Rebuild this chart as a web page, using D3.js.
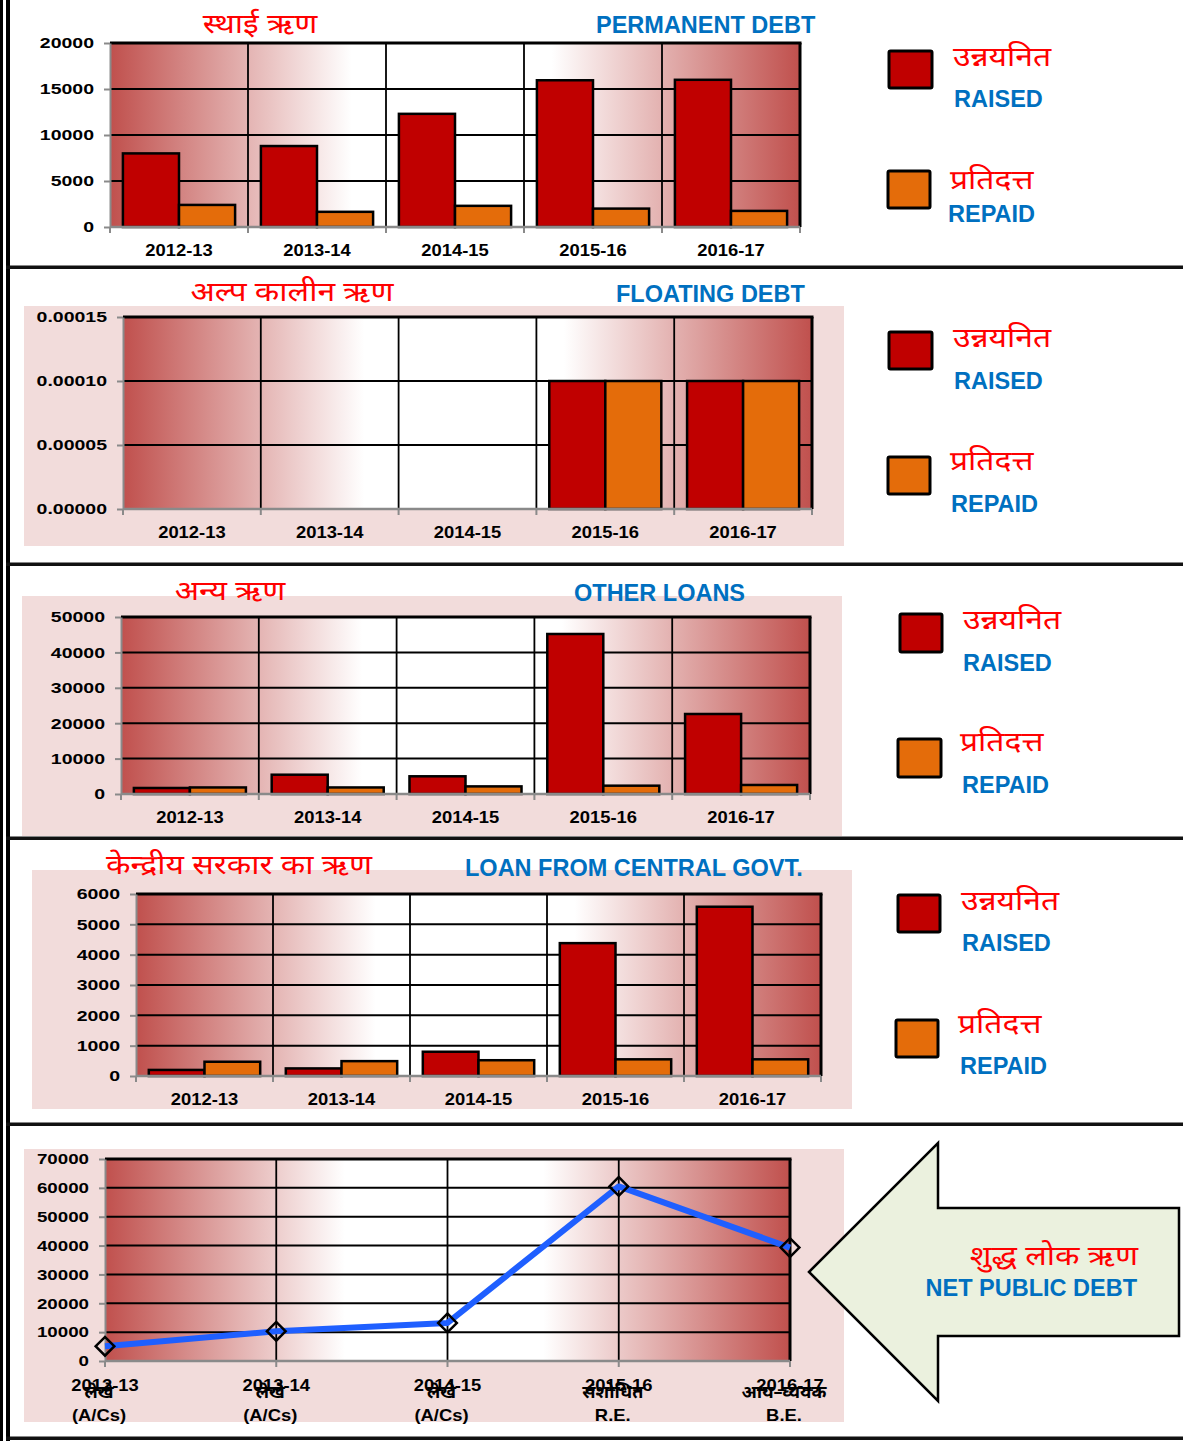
<!DOCTYPE html>
<html><head><meta charset="utf-8">
<script src="https://cdn.jsdelivr.net/npm/d3@7"></script>
<style>
body{margin:0;background:#fff;}
svg{display:block;}
.lat{font-family:"Liberation Sans",Arial,sans-serif;font-weight:bold;}
.np{font-family:"Noto Sans Devanagari","Lohit Devanagari","Mangal","Noto Sans",sans-serif;}
</style></head><body>
<svg id="chart" width="1183" height="1441"></svg>
<script>
// ---------------- DATA ----------------
const categories = ["2012-13", "2013-14", "2014-15", "2015-16", "2016-17"];
const seriesKeys = ["raised", "repaid"];
const seriesNp = ["उन्नयनित", "प्रतिदत्त"];
const seriesEn = ["RAISED", "REPAID"];

const permanentRaised = [8000, 8800, 12300, 15950, 16000];
const permanentRepaid = [2400, 1650, 2300, 2000, 1750];
const permanentTicks = [0, 5000, 10000, 15000, 20000];

const floatingRaised = [0, 0, 0, 0.0001, 0.0001];
const floatingRepaid = [0, 0, 0, 0.0001, 0.0001];
const floatingTicks = [0, 0.00005, 0.0001, 0.00015];

const otherRaised = [1700, 5450, 5000, 45200, 22600];
const otherRepaid = [1850, 1850, 2150, 2350, 2550];
const otherTicks = [0, 10000, 20000, 30000, 40000, 50000];

const centralRaised = [200, 250, 800, 4380, 5580];
const centralRepaid = [470, 490, 520, 550, 550];
const centralTicks = [0, 1000, 2000, 3000, 4000, 5000, 6000];

const netPublicDebt = [5100, 10300, 13200, 60500, 39300];
const netTicks = [0, 10000, 20000, 30000, 40000, 50000, 60000, 70000];
const netLabelNp = ["लेखे", "लेखे", "लेखे", "संशोधित", "आय–व्ययक"];
const netLabelEn = ["(A/Cs)", "(A/Cs)", "(A/Cs)", "R.E.", "B.E."];

const panelTitlesNp = ["स्थाई ऋण", "अल्प कालीन ऋण", "अन्य ऋण", "केन्द्रीय सरकार का ऋण", "शुद्ध लोक ऋण"];
const panelTitlesEn = ["PERMANENT DEBT", "FLOATING DEBT", "OTHER LOANS", "LOAN FROM CENTRAL GOVT.", "NET PUBLIC DEBT"];

// ---------------- STYLE ----------------
const RED_TXT = "#ff0000", BLUE_TXT = "#0070c0";
const RAISED_C = "#c00000", REPAID_C = "#e46c0a";
const PINK = "#f2dcdb", AXIS_GRAY = "#8a8a8a";
const NP_SX = 1.18;

const svg = d3.select("#chart");
const defs = svg.append("defs");
const grad = defs.append("linearGradient").attr("id", "plotGrad")
  .attr("x1", "0").attr("x2", "1").attr("y1", "0").attr("y2", "0");
[[0, "#c0504d"], [0.35, "#ffffff"], [0.64, "#ffffff"], [1, "#c0504d"]].forEach(s =>
  grad.append("stop").attr("offset", s[0]).attr("stop-color", s[1]));

function sText(parent, x, y, txt, size, sx, anchor, fill) {
  const g = parent.append("g").attr("transform", `translate(${x},${y}) scale(${sx},1)`);
  g.append("text").attr("class", "lat").attr("text-anchor", anchor || "middle")
    .attr("font-size", size).attr("fill", fill || "#000").text(txt);
  return g;
}
function npText(parent, x, y, txt, size, anchor, fill, bold) {
  const g = parent.append("g").attr("transform", `translate(${x},${y}) scale(${NP_SX},1)`);
  const t = g.append("text").attr("class", "np").attr("text-anchor", anchor || "start")
    .attr("font-size", size).attr("fill", fill || RED_TXT).text(txt);
  if (bold) t.attr("font-weight", "bold");
  return g;
}

function styleYAxis(ax, sx) {
  ax.select(".domain").attr("stroke", AXIS_GRAY).attr("stroke-width", 2);
  ax.selectAll(".tick line").attr("stroke", AXIS_GRAY).attr("stroke-width", 2);
  ax.selectAll(".tick text").attr("class", "lat").attr("font-size", 15).attr("fill", "#000")
    .attr("x", -16 / sx).attr("transform", `scale(${sx},1)`);
}

function legend(L) {
  const g = svg.append("g");
  L.sq.forEach((s, i) => {
    g.append("rect").attr("x", s[0]).attr("y", s[1]).attr("width", s[2]).attr("height", s[3])
      .attr("fill", i === 0 ? RAISED_C : REPAID_C).attr("stroke", "#000").attr("stroke-width", 3).attr("rx", 1.5);
    npText(g, L.np[i][0], L.np[i][1], seriesNp[i], 27, "start");
    g.append("text").attr("class", "lat").attr("x", L.en[i][0]).attr("y", L.en[i][1])
      .attr("font-size", 23.5).attr("fill", BLUE_TXT).text(seriesEn[i]);
  });
}

function barPanel(o) {
  const g = svg.append("g");
  if (o.bg) g.append("rect").attr("x", o.bg[0]).attr("y", o.bg[1]).attr("width", o.bg[2] - o.bg[0])
    .attr("height", o.bg[3] - o.bg[1]).attr("fill", PINK);
  const x0 = d3.scaleBand().domain(categories).range([o.left, o.right]);
  const x1 = d3.scaleBand().domain(seriesKeys).range([0, x0.bandwidth()]).paddingOuter(0.23);
  const y = d3.scaleLinear().domain([0, d3.max(o.ticks)]).range([o.bottom, o.top]);

  g.append("rect").attr("x", o.left).attr("y", o.top).attr("width", o.right - o.left)
    .attr("height", o.bottom - o.top).attr("fill", "url(#plotGrad)");
  g.selectAll(".hg").data(o.ticks.slice(1, -1)).join("line")
    .attr("x1", o.left).attr("x2", o.right).attr("y1", d => y(d)).attr("y2", d => y(d))
    .attr("stroke", "#000").attr("stroke-width", 2);
  g.selectAll(".vg").data(categories.slice(1)).join("line")
    .attr("x1", d => x0(d)).attr("x2", d => x0(d)).attr("y1", o.top).attr("y2", o.bottom)
    .attr("stroke", "#000").attr("stroke-width", 1.8);

  const rows = categories.map((c, i) => ({ c, vals: [o.raised[i], o.repaid[i]] }));
  rows.forEach(r => {
    r.vals.forEach((v, k) => {
      if (v <= 0) return;
      g.append("rect").attr("x", x0(r.c) + x1(seriesKeys[k])).attr("y", y(v))
        .attr("width", x1.bandwidth()).attr("height", y(0) - y(v))
        .attr("fill", k === 0 ? RAISED_C : REPAID_C).attr("stroke", "#000").attr("stroke-width", 2.5);
    });
  });

  g.append("line").attr("x1", o.left).attr("x2", o.right + 1.5).attr("y1", o.top).attr("y2", o.top)
    .attr("stroke", "#000").attr("stroke-width", 3);
  g.append("line").attr("x1", o.right).attr("x2", o.right).attr("y1", o.top).attr("y2", o.bottom)
    .attr("stroke", "#000").attr("stroke-width", 3);

  const ay = g.append("g").attr("transform", `translate(${o.left},0)`)
    .call(d3.axisLeft(y).tickValues(o.ticks).tickSize(6).tickSizeOuter(0).tickFormat(o.fmt));
  styleYAxis(ay, 1.3);

  g.append("line").attr("x1", o.left).attr("x2", o.right).attr("y1", o.bottom).attr("y2", o.bottom)
    .attr("stroke", AXIS_GRAY).attr("stroke-width", 2.5);
  const bounds = categories.map(c => x0(c)).concat([o.right]);
  g.selectAll(".xt").data(bounds).join("line")
    .attr("x1", d => d).attr("x2", d => d).attr("y1", o.bottom).attr("y2", o.bottom + 6)
    .attr("stroke", AXIS_GRAY).attr("stroke-width", 2);
  categories.forEach(c => sText(g, x0(c) + x0.bandwidth() / 2, o.bottom + 29, c, 16, 1.15));

  npText(g, o.tNp[0], o.tNp[1], panelTitlesNp[o.idx], 27, "middle");
  g.append("text").attr("class", "lat").attr("x", o.tEn[0]).attr("y", o.tEn[1])
    .attr("font-size", 23.5).attr("fill", BLUE_TXT).text(panelTitlesEn[o.idx]);
  legend(o.legend);
}

barPanel({ idx: 0, left: 110, right: 800, top: 43, bottom: 227, ticks: permanentTicks,
  raised: permanentRaised, repaid: permanentRepaid, fmt: d3.format("d"),
  tNp: [260, 33], tEn: [596, 33],
  legend: { sq: [[889, 51, 43, 37], [888, 171, 42, 37]], np: [[953, 66], [950, 189]], en: [[954, 107], [948, 222]] } });

barPanel({ idx: 1, bg: [24, 306, 844, 546], left: 123, right: 812, top: 317, bottom: 509, ticks: floatingTicks,
  raised: floatingRaised, repaid: floatingRepaid, fmt: d3.format(".5f"),
  tNp: [292, 301], tEn: [616, 302],
  legend: { sq: [[889, 332, 43, 37], [888, 457, 42, 37]], np: [[953, 347], [950, 470]], en: [[954, 389], [951, 512]] } });

barPanel({ idx: 2, bg: [22, 596, 842, 836], left: 121, right: 810, top: 617, bottom: 794, ticks: otherTicks,
  raised: otherRaised, repaid: otherRepaid, fmt: d3.format("d"),
  tNp: [230, 600], tEn: [574, 601],
  legend: { sq: [[900, 614, 42, 38], [898, 739, 43, 38]], np: [[963, 629], [960, 751]], en: [[963, 671], [962, 793]] } });

barPanel({ idx: 3, bg: [32, 870, 852, 1109], left: 136, right: 821, top: 894, bottom: 1076, ticks: centralTicks,
  raised: centralRaised, repaid: centralRepaid, fmt: d3.format("d"),
  tNp: [239, 874], tEn: [465, 876],
  legend: { sq: [[898, 895, 42, 37], [896, 1020, 42, 37]], np: [[961, 910], [958, 1033]], en: [[962, 951], [960, 1074]] } });

// ---------------- LINE PANEL ----------------
(function linePanel() {
  const o = { left: 105, right: 790, top: 1159, bottom: 1361 };
  const g = svg.append("g");
  g.append("rect").attr("x", 24).attr("y", 1149).attr("width", 820).attr("height", 273).attr("fill", PINK);
  const x = d3.scalePoint().domain(categories).range([o.left, o.right]).padding(0);
  const y = d3.scaleLinear().domain([0, d3.max(netTicks)]).range([o.bottom, o.top]);
  g.append("rect").attr("x", o.left).attr("y", o.top).attr("width", o.right - o.left)
    .attr("height", o.bottom - o.top).attr("fill", "url(#plotGrad)");
  g.selectAll(".hg").data(netTicks.slice(1, -1)).join("line")
    .attr("x1", o.left).attr("x2", o.right).attr("y1", d => y(d)).attr("y2", d => y(d))
    .attr("stroke", "#000").attr("stroke-width", 2);
  g.selectAll(".vg").data(categories.slice(1)).join("line")
    .attr("x1", d => x(d)).attr("x2", d => x(d)).attr("y1", o.top).attr("y2", o.bottom)
    .attr("stroke", "#000").attr("stroke-width", 1.8);
  g.append("line").attr("x1", o.left).attr("x2", o.right + 1.5).attr("y1", o.top).attr("y2", o.top)
    .attr("stroke", "#000").attr("stroke-width", 3);
  g.append("line").attr("x1", o.right).attr("x2", o.right).attr("y1", o.top).attr("y2", o.bottom)
    .attr("stroke", "#000").attr("stroke-width", 3);

  const ay = g.append("g").attr("transform", `translate(${o.left},0)`)
    .call(d3.axisLeft(y).tickValues(netTicks).tickSize(6).tickSizeOuter(0).tickFormat(d3.format("d")));
  styleYAxis(ay, 1.25);
  g.append("line").attr("x1", o.left).attr("x2", o.right).attr("y1", o.bottom).attr("y2", o.bottom)
    .attr("stroke", AXIS_GRAY).attr("stroke-width", 2.5);
  g.selectAll(".xt").data(categories).join("line")
    .attr("x1", d => x(d)).attr("x2", d => x(d)).attr("y1", o.bottom).attr("y2", o.bottom + 6)
    .attr("stroke", AXIS_GRAY).attr("stroke-width", 2);

  const pts = categories.map((c, i) => [x(c), y(netPublicDebt[i])]);
  g.append("path").attr("d", d3.line()(pts)).attr("fill", "none")
    .attr("stroke", "#1f5fff").attr("stroke-width", 6).attr("stroke-linejoin", "round");
  g.selectAll(".mk").data(pts).join("path")
    .attr("d", d3.symbol().type(d3.symbolSquare).size(175))
    .attr("transform", d => `translate(${d[0]},${d[1]}) rotate(45)`)
    .attr("fill", "none").attr("stroke", "#000").attr("stroke-width", 2.5);

  categories.forEach((c, i) => {
    sText(g, x(c), 1391, c, 16, 1.15);
    const t = g.append("text").attr("class", "np").attr("x", x(c) - 6).attr("y", 1398).attr("text-anchor", "middle")
      .attr("font-size", 18).attr("font-weight", "bold").attr("fill", "#000").text(netLabelNp[i]);
    sText(g, x(c) - 6, 1421, netLabelEn[i], 16, 1.15);
  });

  // arrow callout
  const arrowPts = [[809, 1272], [938, 1143], [938, 1208], [1179, 1208], [1179, 1336], [938, 1336], [938, 1401]];
  svg.append("polygon").attr("points", arrowPts.map(p => p.join(",")).join(" "))
    .attr("fill", "#ebf1de").attr("stroke", "#000").attr("stroke-width", 2.5).attr("stroke-linejoin", "miter");
  npText(svg, 1138, 1265, panelTitlesNp[4], 27, "end");
  svg.append("text").attr("class", "lat").attr("x", 1137).attr("y", 1296).attr("text-anchor", "end")
    .attr("font-size", 23.5).attr("fill", BLUE_TXT).text(panelTitlesEn[4]);
})();

// ---------------- FRAME ----------------
svg.append("rect").attr("x", 0).attr("y", 0).attr("width", 3).attr("height", 1441).attr("fill", "#000");
svg.append("rect").attr("x", 6).attr("y", 0).attr("width", 4).attr("height", 1441).attr("fill", "#000");
[267, 564, 838, 1124, 1438].forEach(yy =>
  svg.append("rect").attr("x", 6).attr("y", yy - 1.5).attr("width", 1177).attr("height", 3.5).attr("fill", "#111"));
</script>
</body></html>
